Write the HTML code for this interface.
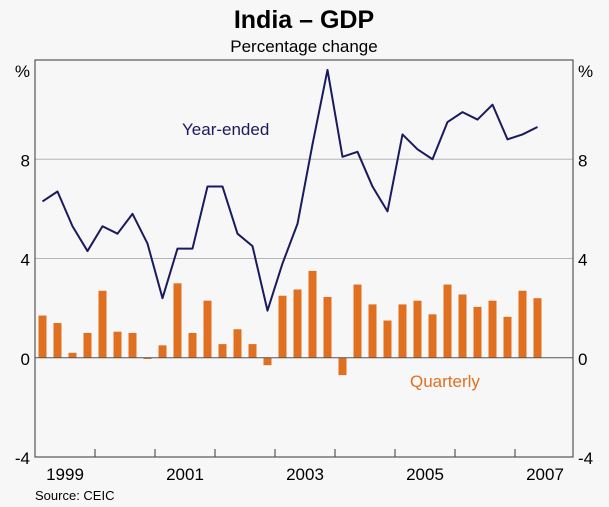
<!DOCTYPE html>
<html><head><meta charset="utf-8"><style>
body{margin:0;background:#f7f7f7;}
svg{display:block;font-family:"Liberation Sans",Arial,sans-serif;}
</style></head><body>
<svg id="c" width="609" height="507" xmlns="http://www.w3.org/2000/svg">
<rect x="0" y="0" width="609" height="507" fill="#f7f7f7"/>
<text x="304" y="28" text-anchor="middle" font-size="25" font-weight="bold" fill="#000">India – GDP</text>
<text x="304" y="52" text-anchor="middle" font-size="17" fill="#000">Percentage change</text>
<g id="grid"></g><g id="bars"></g><g id="line"></g><g id="axes"></g>
<text x="182" y="135" font-size="17" fill="#1a1a5e">Year-ended</text>
<text x="410" y="387" font-size="17" fill="#e07020">Quarterly</text>
<text x="35" y="500" font-size="13" fill="#000">Source: CEIC</text>
</svg>
<script>
const quarterly=[1.7,1.4,0.2,1.0,2.7,1.05,1.0,-0.05,0.5,3.0,1.0,2.3,0.55,1.15,0.55,-0.3,2.5,2.75,3.5,2.45,-0.7,2.95,2.15,1.5,2.15,2.3,1.75,2.95,2.55,2.05,2.3,1.65,2.7,2.4];
const yearEnded=[6.3,6.7,5.3,4.3,5.3,5.0,5.8,4.6,2.4,4.4,4.4,6.9,6.9,5.0,4.5,1.9,3.8,5.4,8.6,11.6,8.1,8.3,6.9,5.9,9.0,8.4,8.0,9.5,9.9,9.6,10.2,8.8,9.0,9.3];
const yTicks=[-4,0,4,8];
const yearLabels=["1999","2001","2003","2005","2007"];
const startYear=1999;
const NS="http://www.w3.org/2000/svg";
const L=35,R=573,T=60,B=457;
const yMin=-4,yMax=12;
const y=v=>B-(v-yMin)/(yMax-yMin)*(B-T);
const qw=15;
const xq=i=>L+qw*(i+0.5);
const xYear=yr=>L+(yr-startYear)*4*qw;
function mk(t,a,p){const e=document.createElementNS(NS,t);for(const k in a)e.setAttribute(k,a[k]);p.appendChild(e);return e;}
const grid=document.getElementById('grid'),bars=document.getElementById('bars'),line=document.getElementById('line'),axes=document.getElementById('axes');
yTicks.forEach(v=>{
  if(v>yMin&&v!==0){const g=mk('line',{x1:L,x2:R,y1:y(v),y2:y(v),stroke:'#b5b5b5','stroke-width':1},grid);
  
  }
  const a=mk('text',{x:L-5,y:y(v)+7,'text-anchor':'end','font-size':17},axes);a.textContent=v;
  
  
  const b=mk('text',{x:R+5,y:y(v)+7,'font-size':17},axes);b.textContent=v;
  
  
});
[['%',L-5,'end'],['%',R+5,'start']].forEach((p,i)=>{const t=mk('text',{x:p[1],y:y(yMax)+17,'text-anchor':p[2],'font-size':17},axes);t.textContent=p[0];

});
quarterly.forEach((v,i)=>{const r=mk('rect',{x:xq(i)-4,width:8,y:Math.min(y(v),y(0)),height:Math.abs(y(v)-y(0)),fill:'#e07020'},bars);

});
const pl=mk('polyline',{points:yearEnded.map((v,i)=>xq(i)+','+y(v)).join(' '),fill:'none',stroke:'#1a1a5e','stroke-width':2,'stroke-linejoin':'round'},line);


const z=mk('line',{x1:L,x2:R,y1:y(0),y2:y(0),stroke:'#555','stroke-width':1},axes);


const fr=mk('rect',{x:L,y:T,width:R-L,height:B-T,fill:'none',stroke:'#555','stroke-width':1.2},axes);


for(let yr=startYear+1;yr<=2008;yr++){const xx=xYear(yr);if(xx>=R)break;
  const t=mk('line',{x1:xx,x2:xx,y1:B,y2:B-8,stroke:'#555','stroke-width':1.2},axes);
  
  }
yearLabels.forEach(s=>{const yr=+s;const t=mk('text',{x:xYear(yr)+2*qw,y:B+23,'text-anchor':'middle','font-size':17},axes);t.textContent=s;

});
</script>
</body></html>
